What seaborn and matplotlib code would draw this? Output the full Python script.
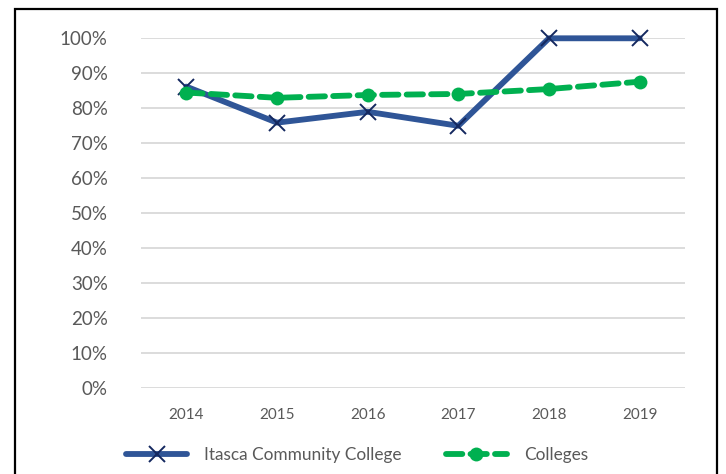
import pandas as pd
import numpy as np
import matplotlib.pyplot as plt
import seaborn as sns
from matplotlib.patches import Rectangle
from matplotlib.ticker import PercentFormatter

years = ['2014', '2015', '2016', '2017', '2018', '2019']
itasca = [0.862, 0.759, 0.790, 0.750, 1.000, 1.000]
colleges = [0.845, 0.830, 0.838, 0.841, 0.855, 0.876]

df_itasca = pd.DataFrame({'year': years, 'rate': itasca})
df_colleges = pd.DataFrame({'year': years, 'rate': colleges})

sns.set_style('white')
plt.rcParams['font.family'] = ['Lato', 'DejaVu Sans']
text_color = '#595959'

fig = plt.figure(figsize=(7.26, 4.74), dpi=100)
ax = fig.add_axes([0.1942, 0.1808, 0.7493, 0.7384])

sns.lineplot(data=df_itasca, x='year', y='rate', ax=ax, color='#2F5597',
             linewidth=4.2, marker='x', markersize=11, markeredgewidth=1.4,
             markeredgecolor='#14285F', label='Itasca Community College',
             solid_capstyle='round')
sns.lineplot(data=df_colleges, x='year', y='rate', ax=ax, color='#00B050',
             linewidth=4.2, marker='o', markersize=10, markeredgewidth=0,
             label='Colleges')
ax.lines[1].set_linestyle((0, (2.8, 1.4)))
ax.lines[1].set_dash_capstyle('round')
for ln in ax.lines:
    ln.set_clip_on(False)

ax.set_ylim(0, 1)
ax.set_xlim(-0.5, 5.5)
ax.set_yticks(np.arange(0, 1.01, 0.1))
ax.yaxis.set_major_formatter(PercentFormatter(1.0, decimals=0))
ax.grid(axis='y', color='#D9D9D9', linewidth=1.3)
ax.set_axisbelow(True)
for s in ax.spines.values():
    s.set_visible(False)
ax.tick_params(axis='both', length=0, colors=text_color)
ax.tick_params(axis='y', labelsize=13.5, pad=24)
ax.tick_params(axis='x', labelsize=11, pad=14)
ax.set_xlabel('')
ax.set_ylabel('')

handles, labels = ax.get_legend_handles_labels()
ax.get_legend().remove()
leg = fig.legend(handles, labels, loc='center', bbox_to_anchor=(0.492, 0.04),
                 ncol=2, frameon=False, fontsize=12.4, handlelength=3.5,
                 columnspacing=2.6, handletextpad=1.0)
for t in leg.get_texts():
    t.set_color(text_color)

fig.patches.append(Rectangle((15 / 726, -0.05), 702 / 726, 1.05 - 9 / 474,
                             transform=fig.transFigure, fill=False,
                             edgecolor='black', linewidth=1.6, clip_on=False))

fig.savefig('out.png', dpi=100)
